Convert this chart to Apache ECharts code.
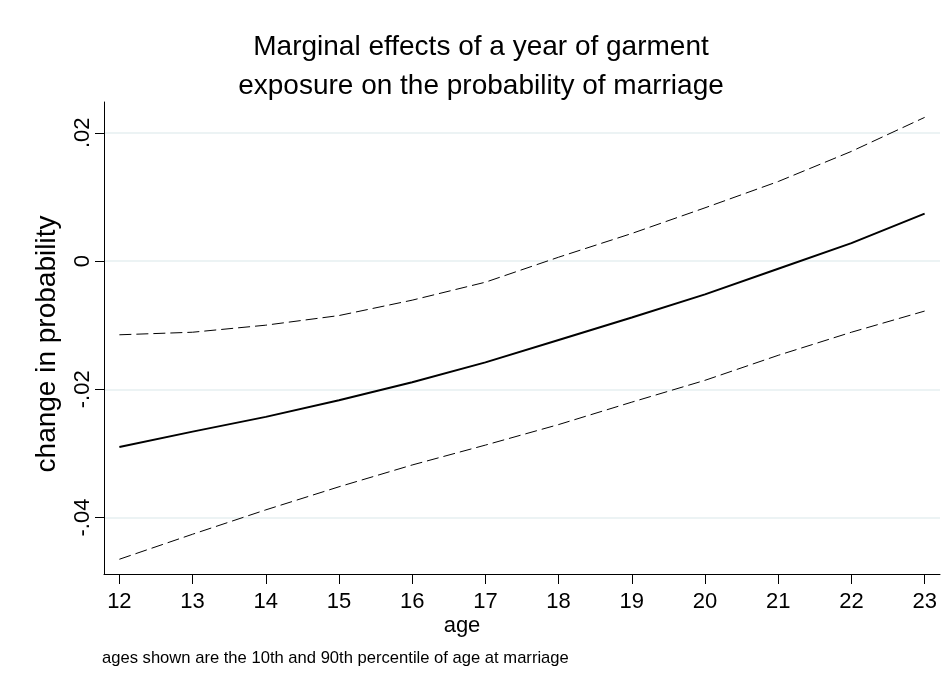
<!DOCTYPE html>
<html>
<head>
<meta charset="utf-8">
<script src="https://cdn.jsdelivr.net/npm/echarts@6/dist/echarts.min.js"></script>
<style>html,body{margin:0;padding:0;background:#fff;}#c{width:952px;height:694px;}</style>
</head>
<body>
<div id="c"></div>
<script>
var ages = [12, 13, 14, 15, 16, 17, 18, 19, 20, 21, 22, 23];
var effect = [-0.0290, -0.0266, -0.0243, -0.0217, -0.0189, -0.0158, -0.0123, -0.0088, -0.0052, -0.0012, 0.0028, 0.0074];
var upperCI = [-0.0115, -0.0111, -0.0100, -0.0085, -0.0061, -0.0033, 0.0006, 0.0043, 0.0083, 0.0124, 0.0171, 0.0224];
var lowerCI = [-0.0465, -0.0426, -0.0388, -0.0352, -0.0318, -0.0287, -0.0255, -0.0220, -0.0186, -0.0147, -0.0111, -0.0078];
var xTicks = [12, 13, 14, 15, 16, 17, 18, 19, 20, 21, 22, 23];
var yTicks = [-0.04, -0.02, 0, 0.02];
var yTickLabels = ['-.04', '-.02', '0', '.02'];

function pairs(ys) { return ages.map(function (a, i) { return [a, ys[i]]; }); }

var FONT = '"Liberation Sans", Arial, Helvetica, sans-serif';
var chart = echarts.init(document.getElementById('c'), null, { renderer: 'canvas' });
chart.setOption({
  backgroundColor: '#ffffff',
  animation: false,
  title: {
    text: 'Marginal effects of a year of garment\nexposure on the probability of marriage',
    left: 476, top: 23, textAlign: 'center',
    textStyle: { fontFamily: FONT, fontSize: 28, fontWeight: 'normal', color: '#000', lineHeight: 39 }
  },
  grid: { left: 104, right: 12, top: 102, bottom: 120, containLabel: false },
  xAxis: {
    type: 'value', min: 11.79, max: 23.21,
    axisLine: { show: true, onZero: false, lineStyle: { color: '#000', width: 1 } },
    axisTick: { show: true, length: 10, customValues: xTicks, lineStyle: { color: '#000', width: 1 } },
    axisLabel: { customValues: xTicks, margin: 17, color: '#000', fontFamily: FONT, fontSize: 22 },
    splitLine: { show: false }
  },
  yAxis: {
    type: 'value', min: -0.0488, max: 0.0248,
    axisLine: { show: true, onZero: false, lineStyle: { color: '#000', width: 1 } },
    axisTick: { show: true, length: 9, customValues: yTicks, lineStyle: { color: '#000', width: 1 } },
    axisLabel: {
      customValues: yTicks, rotate: 90, margin: 10, color: '#000', fontFamily: FONT, fontSize: 22,
      formatter: function (v) {
        for (var i = 0; i < yTicks.length; i++) { if (Math.abs(yTicks[i] - v) < 1e-9) return yTickLabels[i]; }
        return '';
      }
    },
    splitLine: { show: true, lineStyle: { color: '#e6eff1', width: 1.5 } }
  },
  series: [
    { type: 'line', data: pairs(effect), showSymbol: false, smooth: false, lineStyle: { color: '#000', width: 2 }, z: 3 },
    { type: 'line', data: pairs(upperCI), showSymbol: false, smooth: false, lineStyle: { color: '#000', width: 1, type: [12, 5] }, z: 2 },
    { type: 'line', data: pairs(lowerCI), showSymbol: false, smooth: false, lineStyle: { color: '#000', width: 1, type: [12, 5] }, z: 2 }
  ],
  graphic: [
    { type: 'text', x: 47, y: 344, rotation: Math.PI / 2,
      style: { text: 'change in probability', fill: '#000', font: '28px ' + FONT, textAlign: 'center', textVerticalAlign: 'middle' } },
    { type: 'text', x: 462, y: 626, style: { text: 'age', fill: '#000', font: '22px ' + FONT, textAlign: 'center', textVerticalAlign: 'middle' } },
    { type: 'text', x: 102, y: 658, style: { text: 'ages shown are the 10th and 90th percentile of age at marriage', fill: '#000', font: '16.6px ' + FONT, textAlign: 'left', textVerticalAlign: 'middle' } }
  ]
});
</script>
</body>
</html>
